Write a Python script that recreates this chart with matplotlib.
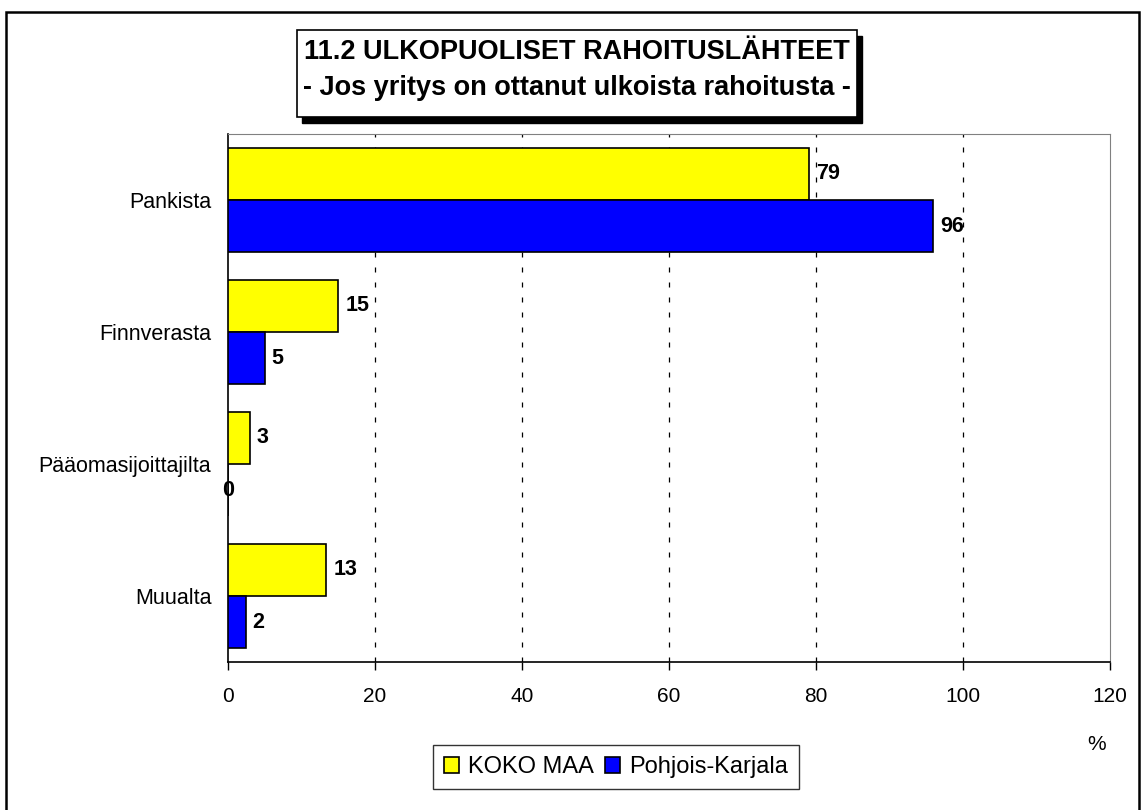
import matplotlib
matplotlib.use("Agg")
import matplotlib.pyplot as plt
from matplotlib.patches import Rectangle

plt.rcParams["font.family"] = ["Liberation Sans", "DejaVu Sans"]

categories = ["Pankista", "Finnverasta", "Pääomasijoittajilta", "Muualta"]
koko_maa = [79.1, 15.0, 3.0, 13.4]
pohjois_karjala = [95.9, 5.0, 0.0, 2.4]
series_names = ["KOKO MAA", "Pohjois-Karjala"]
x_ticks = [0, 20, 40, 60, 80, 100, 120]
title_lines = ["11.2 ULKOPUOLISET RAHOITUSLÄHTEET", "- Jos yritys on ottanut ulkoista rahoitusta -"]

W, H = 1145, 810
fig = plt.figure(figsize=(W / 100, H / 100), dpi=100)


def fx(px):
    return px / W


def fy(py):
    return 1 - py / H


# outer frame
fig.patches.append(Rectangle((fx(6), fy(830)), fx(1139 - 6), (830 - 12) / H,
                             transform=fig.transFigure, fill=False, edgecolor="black", lw=1.8))

ax = fig.add_axes([fx(228), fy(662), fx(1110 - 228), (662 - 134) / H])
bar_h = 0.394
ypos = list(range(len(categories)))
b1 = ax.barh([y - bar_h / 2 for y in ypos], koko_maa, height=bar_h, color="#ffff00",
             edgecolor="black", lw=1.2, label=series_names[0], zorder=3)
b2 = ax.barh([y + bar_h / 2 for y in ypos], pohjois_karjala, height=bar_h, color="#0000ff",
             edgecolor="black", lw=1.2, label=series_names[1], zorder=3)

for bars, vals in ((b1, koko_maa), (b2, pohjois_karjala)):
    for rect, v in zip(bars, vals):
        # excel puts the zero label on the axis itself
        off = 5 if v > 0 else -4
        ax.annotate(f"{round(v):d}", (v, rect.get_y() + rect.get_height() / 2),
                    xytext=(off, 0), textcoords="offset points", ha="left", va="center",
                    fontsize=15.5, fontweight="bold", zorder=4)

ax.set_xlim(0, 120)
ax.set_ylim(len(categories) - 0.5, -0.5)
ax.set_xticks(x_ticks)
ax.set_xticklabels([str(t) for t in x_ticks], fontsize=15)
ax.set_yticks(ypos)
ax.set_yticklabels(categories, fontsize=15.5)
ax.tick_params(axis="y", length=0, pad=12)
ax.tick_params(axis="x", length=6, width=1, direction="out", pad=12)
for x in x_ticks[1:-1]:
    ax.axvline(x, color="black", lw=0.9, ls=(0, (4, 8)), zorder=1)
ax.spines["top"].set_color("#808080")
ax.spines["right"].set_color("#808080")
ax.spines["left"].set_linewidth(1.2)
ax.spines["bottom"].set_linewidth(1.2)

fig.text(fx(1097), fy(745), "%", fontsize=15, ha="center", va="center")

# title box with shadow
bx0, bx1, by0, by1 = 297, 857, 30, 117
fig.patches.append(Rectangle((fx(bx0 + 5), fy(by1 + 6)), fx(bx1 - bx0), (by1 - by0) / H,
                             transform=fig.transFigure, facecolor="black", edgecolor="black", zorder=5))
fig.patches.append(Rectangle((fx(bx0), fy(by1)), fx(bx1 - bx0), (by1 - by0) / H,
                             transform=fig.transFigure, facecolor="white", edgecolor="black",
                             lw=1.2, zorder=6))
fig.text(fx((bx0 + bx1) / 2), fy(52), title_lines[0], fontsize=19.5, fontweight="bold",
         ha="center", va="center", zorder=7)
fig.text(fx((bx0 + bx1) / 2), fy(88), title_lines[1], fontsize=19.5, fontweight="bold",
         ha="center", va="center", zorder=7)

leg = fig.legend(handles=[b1, b2], labels=series_names, loc="center",
                 bbox_to_anchor=(fx(616), fy(767)), ncol=2, fontsize=17, frameon=True,
                 fancybox=False, edgecolor="black", handlelength=0.65, handleheight=0.65,
                 handletextpad=0.38, columnspacing=0.45, borderpad=0.45)
leg.get_frame().set_linewidth(1.0)

fig.savefig("out.png", dpi=100)
